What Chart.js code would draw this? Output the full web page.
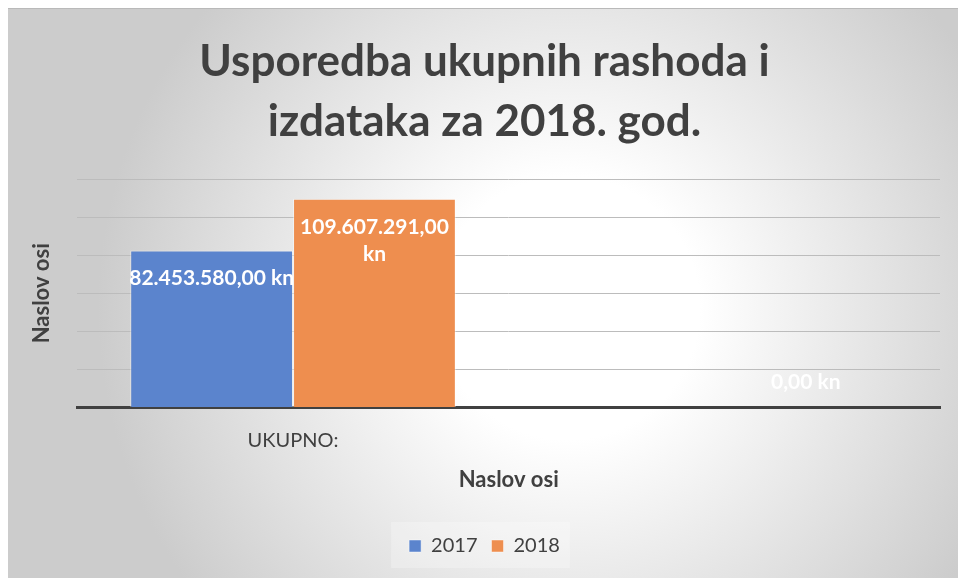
<!DOCTYPE html>
<html>
<head>
<meta charset="utf-8">
<script src="https://cdn.jsdelivr.net/npm/chart.js@4"></script>
<style>
    body { margin: 8px 0 0 8px; background: #ffffff; }
    #wrap { width: 950px; height: 570px; }
</style>
</head>
<body>
<div id="wrap"><canvas id="chart"></canvas></div>
<script>
const categories = ['UKUPNO:', ''];
const seriesNames = ['2017', '2018'];
const values2017 = [82453580, null];
const values2018 = [109607291, 0];
const titleLines = ['Usporedba ukupnih rashoda i', 'izdataka za 2018. god.'];
const axisTitle = 'Naslov osi';

const textColor = '#404040';
const fontFamily = 'Lato, "Open Sans", sans-serif';

function formatKn(v) {
    const parts = v.toFixed(2).split('.');
    const whole = parts[0].replace(/\B(?=(\d{3})+(?!\d))/g, '.');
    return whole + ',' + parts[1] + ' kn';
}

// radial background like the office chart area
const backgroundPlugin = {
    id: 'bg',
    beforeDraw(chart) {
        const ctx = chart.ctx;
        const w = chart.width, h = chart.height;
        ctx.save();
        const g = ctx.createRadialGradient(560, 300, 0, 560, 300, 470);
        g.addColorStop(0, '#ffffff');
        g.addColorStop(0.28, '#ffffff');
        g.addColorStop(1, '#cccccc');
        ctx.fillStyle = g;
        ctx.fillRect(0, 0, w, h);
        ctx.fillStyle = '#b9b9b9';
        ctx.fillRect(0, 0, w, 1);

        // soft box behind legend
        const boxes = chart.legend && chart.legend.legendHitBoxes;
        if (boxes && boxes.length) {
            const l = Math.min(...boxes.map(b => b.left)) - 18;
            const r = Math.max(...boxes.map(b => b.left + b.width)) + 10;
            const cy = boxes[0].top + boxes[0].height / 2;
            ctx.fillStyle = 'rgba(255,255,255,0.25)';
            ctx.fillRect(l, cy - 24, r - l, 46);
        }
        ctx.restore();
    }
};

// value labels inside the bar ends
const valueLabelPlugin = {
    id: 'valueLabels',
    afterDatasetsDraw(chart) {
        const ctx = chart.ctx;
        ctx.save();
        ctx.font = 'bold 21px ' + fontFamily;
        ctx.fillStyle = '#ffffff';
        ctx.textAlign = 'center';
        ctx.textBaseline = 'middle';
        chart.data.datasets.forEach((ds, di) => {
            const meta = chart.getDatasetMeta(di);
            meta.data.forEach((bar, i) => {
                const v = ds.data[i];
                if (v === null || v === undefined) return;
                const text = formatKn(v);
                let lines = [text];
                if (ctx.measureText(text).width > bar.width + 6) {
                    lines = [text.replace(' kn', ''), 'kn'];
                }
                const y = v > 0 ? bar.y + 28 : bar.base - 25;
                lines.forEach((ln, k) => {
                    ctx.fillText(ln, bar.x, y + k * 27);
                });
            });
        });
        ctx.restore();
    }
};

const ctx = document.getElementById('chart').getContext('2d');
new Chart(ctx, {
    type: 'bar',
    data: {
        labels: categories,
        datasets: [
            {
                label: seriesNames[0],
                data: values2017,
                backgroundColor: '#5b84cd',
                borderColor: 'rgba(255,255,255,0.45)',
                borderWidth: 1,
                barPercentage: 1.0,
                categoryPercentage: 0.755
            },
            {
                label: seriesNames[1],
                data: values2018,
                backgroundColor: '#ee8e4f',
                borderColor: 'rgba(255,255,255,0.45)',
                borderWidth: 1,
                barPercentage: 1.0,
                categoryPercentage: 0.755
            }
        ]
    },
    options: {
        responsive: true,
        maintainAspectRatio: false,
        animation: false,
        layout: {
            padding: { left: 21, right: 18, top: 0, bottom: 12 }
        },
        scales: {
            x: {
                grid: { display: false, drawTicks: false },
                border: { display: true, color: '#404040', width: 3 },
                ticks: {
                    color: textColor,
                    padding: 21,
                    font: { family: fontFamily, size: 20 }
                },
                title: {
                    display: true,
                    text: axisTitle,
                    color: textColor,
                    padding: { top: -7, bottom: 29 },
                    font: { family: fontFamily, size: 22, weight: 'bold' }
                }
            },
            y: {
                min: 0,
                max: 120000000,
                ticks: { display: false, stepSize: 20000000 },
                border: { display: false },
                grid: {
                    drawTicks: false,
                    color: (c) => c.tick && c.tick.value === 0 ? 'transparent' : '#bcbcbc',
                    lineWidth: 1
                },
                title: {
                    display: true,
                    text: axisTitle,
                    color: textColor,
                    padding: { top: 0, bottom: 22 },
                    font: { family: fontFamily, size: 22, weight: 'bold' }
                }
            }
        },
        plugins: {
            title: {
                display: true,
                text: titleLines,
                color: textColor,
                padding: { top: 24, bottom: 27 },
                font: { family: fontFamily, size: 44, weight: 'bold', lineHeight: 1.364 }
            },
            legend: {
                position: 'bottom',
                labels: {
                    color: textColor,
                    boxWidth: 12,
                    boxHeight: 12,
                    padding: 14,
                    font: { family: fontFamily, size: 20 }
                }
            },
            tooltip: { enabled: false }
        }
    },
    plugins: [backgroundPlugin, valueLabelPlugin]
});
</script>
</body>
</html>
